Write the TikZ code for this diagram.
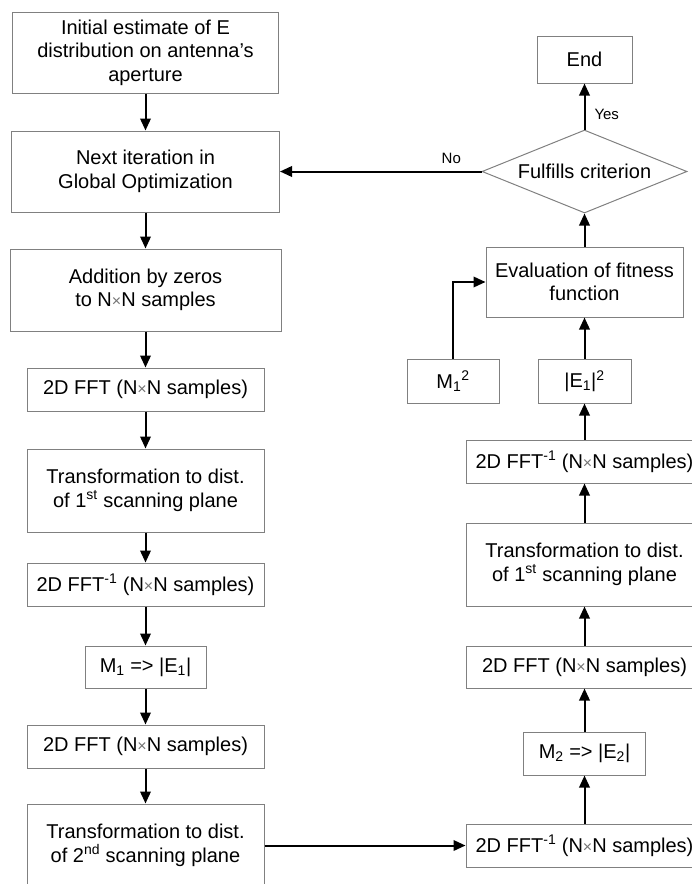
\documentclass[tikz,border=0pt]{standalone}
\usepackage{fontspec}
\setmainfont{Liberation Sans}
\usetikzlibrary{shapes.geometric,arrows.meta}
% small grey multiplication sign used in "N x N"
\newcommand{\nxn}{N{\color{black!55}\fontsize{16}{16}\selectfont×}N}
\begin{document}
\begin{tikzpicture}[x=1pt,y=-1pt,
  box/.style={draw=black!50, line width=1pt, align=center, inner sep=0pt,
    font=\fontsize{20}{23.5}\selectfont},
  decision/.style={diamond, draw=black!50, line width=1pt, aspect=2.47, inner sep=0pt,
    font=\fontsize{20}{23.5}\selectfont},
  flow/.style={line width=2pt, -{Triangle[length=12pt,width=10.5pt]}},
  lbl/.style={font=\fontsize{15}{18}\selectfont, inner sep=0pt}]
\useasboundingbox (0,0) rectangle (692,884);
\clip (0,0) rectangle (692,884);

% left column
\node[box, minimum width=266pt, minimum height=81pt] (init) at (145.5,52.5)
  {Initial estimate of E\\distribution on antenna's\\aperture};
\node[box, minimum width=268pt, minimum height=81pt] (next) at (145.5,171.5)
  {Next iteration in\\Global Optimization};
\node[box, minimum width=271pt, minimum height=82pt] (zeros) at (145.5,290)
  {Addition by zeros\\to \nxn{} samples};
\node[box, minimum width=237pt, minimum height=43pt] (fftA) at (145.5,389.5)
  {2D FFT (\nxn{} samples)};
\node[box, minimum width=237pt, minimum height=83pt] (trA) at (145.5,490.5)
  {Transformation to dist.\\of 1\textsuperscript{st} scanning plane};
\node[box, minimum width=237pt, minimum height=43pt] (ifftA) at (145.5,584.5)
  {2D FFT\textsuperscript{-1} (\nxn{} samples)};
\node[box, minimum width=121pt, minimum height=42pt] (magA) at (145.5,667)
  {M\textsubscript{1} => |E\textsubscript{1}|};
\node[box, minimum width=237pt, minimum height=43pt] (fftB) at (145.5,746.5)
  {2D FFT (\nxn{} samples)};
\node[box, minimum width=237pt, minimum height=83pt] (trB) at (145.5,845.5)
  {Transformation to dist.\\of 2\textsuperscript{nd} scanning plane};

% right column
\node[box, minimum width=237pt, minimum height=43pt] (ifftB) at (584.5,845.5)
  {2D FFT\textsuperscript{-1} (\nxn{} samples)};
\node[box, minimum width=122pt, minimum height=43pt] (magB) at (584.5,753.5)
  {M\textsubscript{2} => |E\textsubscript{2}|};
\node[box, minimum width=237pt, minimum height=42pt] (fftC) at (584.5,667)
  {2D FFT (\nxn{} samples)};
\node[box, minimum width=237pt, minimum height=83pt] (trC) at (584.5,564.5)
  {Transformation to dist.\\of 1\textsuperscript{st} scanning plane};
\node[box, minimum width=237pt, minimum height=43pt] (ifftC) at (584.5,461.5)
  {2D FFT\textsuperscript{-1} (\nxn{} samples)};
\node[box, minimum width=93pt, minimum height=44pt] (sqE) at (584.5,381)
  {|E\textsubscript{1}|\textsuperscript{2}};
\node[box, minimum width=92pt, minimum height=44pt] (sqM) at (453,381)
  {M\textsubscript{1}\textsuperscript{2}};
\node[box, minimum width=197pt, minimum height=70pt] (eval) at (584.5,282)
  {Evaluation of fitness\\function};
\node[decision, minimum width=205pt, minimum height=83pt] (crit) at (584.5,171.5)
  {Fulfills criterion};
\node[box, minimum width=95pt, minimum height=47pt] (end) at (584.5,59.5) {End};

% connectors
\draw[flow] (init) -- (next);
\draw[flow] (next) -- (zeros);
\draw[flow] (zeros) -- (fftA);
\draw[flow] (fftA) -- (trA);
\draw[flow] (trA) -- (ifftA);
\draw[flow] (ifftA) -- (magA);
\draw[flow] (magA) -- (fftB);
\draw[flow] (fftB) -- (trB);
\draw[flow] (trB) -- (ifftB);
\draw[flow] (ifftB) -- (magB);
\draw[flow] (magB) -- (fftC);
\draw[flow] (fftC) -- (trC);
\draw[flow] (trC) -- (ifftC);
\draw[flow] (ifftC) -- (sqE);
\draw[flow] (sqE) -- (eval);
\draw[flow] (sqM.north) |- (eval.west);
\draw[flow] (eval) -- (crit);
\draw[flow] (crit.north) -- node[lbl, pos=0.32, right=9pt] {Yes} (end.south);
\draw[flow] (crit.west) -- node[lbl, pos=0.15, above=7pt] {No} (next.east);
\end{tikzpicture}
\end{document}
